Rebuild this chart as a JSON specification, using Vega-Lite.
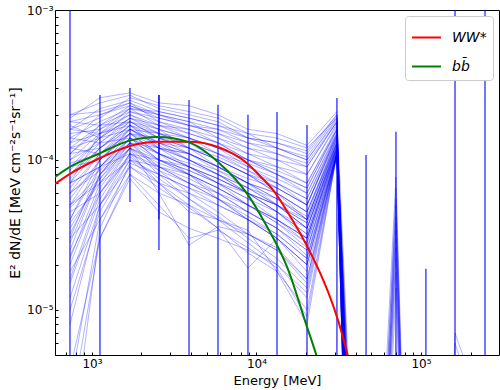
{
"$schema":"https://vega.github.io/schema/vega-lite/v6.json",
"width":444,"height":345,"autosize":"none",
"padding":{"left":55,"top":10,"right":1,"bottom":35},
"config":{"view":{"stroke":"#000000","strokeWidth":1},"font":"DejaVu Sans",
"axis":{"grid":false,"domain":false,"tickColor":"#000000","tickSize":-3,"labelColor":"#000000","labelFont":"DejaVu Sans","labelFontSize":12,"titleFont":"DejaVu Sans","titleFontSize":13,"titleFontWeight":"normal","titleColor":"#000000","labelOverlap":false,"labelFlush":false}},
"datasets":{
"samples":[
{"s":1,"e":735,"v":20e-5},{"s":1,"e":1118,"v":24e-5},{"s":1,"e":1702,"v":27e-5},{"s":1,"e":2553,"v":22e-5},{"s":1,"e":3890,"v":20e-5},{"s":1,"e":5834,"v":18e-5},{"s":1,"e":8875,"v":14e-5},{"s":1,"e":13330,"v":13e-5},{"s":1,"e":20280,"v":11e-5},{"s":1,"e":30830,"v":20e-5},{"s":1,"e":46340,"v":1e-8},{"s":1,"e":70430,"v":7.7e-5},{"s":1,"e":107100,"v":1e-11},
{"s":2,"e":735,"v":16e-5},{"s":2,"e":1118,"v":22e-5},{"s":2,"e":1702,"v":25e-5},{"s":2,"e":2553,"v":21e-5},{"s":2,"e":3890,"v":19e-5},{"s":2,"e":5834,"v":17e-5},{"s":2,"e":8875,"v":15e-5},{"s":2,"e":13330,"v":14e-5},{"s":2,"e":20280,"v":12e-5},{"s":2,"e":30830,"v":19e-5},{"s":2,"e":46340,"v":1e-10},
{"s":3,"e":735,"v":18e-5},{"s":3,"e":1118,"v":20e-5},{"s":3,"e":1702,"v":23e-5},{"s":3,"e":2553,"v":19e-5},{"s":3,"e":3890,"v":17e-5},{"s":3,"e":5834,"v":15e-5},{"s":3,"e":8875,"v":12e-5},{"s":3,"e":13330,"v":11e-5},{"s":3,"e":20280,"v":9e-5},{"s":3,"e":30830,"v":18e-5},{"s":3,"e":46340,"v":1e-11},
{"s":4,"e":735,"v":14e-5},{"s":4,"e":1118,"v":18e-5},{"s":4,"e":1702,"v":22e-5},{"s":4,"e":2553,"v":20e-5},{"s":4,"e":3890,"v":18e-5},{"s":4,"e":5834,"v":14e-5},{"s":4,"e":8875,"v":11e-5},{"s":4,"e":13330,"v":9e-5},{"s":4,"e":20280,"v":8e-5},{"s":4,"e":30830,"v":17e-5},{"s":4,"e":46340,"v":1e-9},
{"s":5,"e":735,"v":12e-5},{"s":5,"e":1118,"v":17e-5},{"s":5,"e":1702,"v":21e-5},{"s":5,"e":2553,"v":18e-5},{"s":5,"e":3890,"v":15e-5},{"s":5,"e":5834,"v":13e-5},{"s":5,"e":8875,"v":10e-5},{"s":5,"e":13330,"v":9e-5},{"s":5,"e":20280,"v":7e-5},{"s":5,"e":30830,"v":16e-5},{"s":5,"e":46340,"v":3e-9},{"s":5,"e":70430,"v":6.5e-5},{"s":5,"e":107100,"v":1e-11},
{"s":6,"e":735,"v":15e-5},{"s":6,"e":1118,"v":16e-5},{"s":6,"e":1702,"v":20e-5},{"s":6,"e":2553,"v":16e-5},{"s":6,"e":3890,"v":14e-5},{"s":6,"e":5834,"v":12e-5},{"s":6,"e":8875,"v":10e-5},{"s":6,"e":13330,"v":8e-5},{"s":6,"e":20280,"v":6.5e-5},{"s":6,"e":30830,"v":16e-5},{"s":6,"e":46340,"v":1e-10},
{"s":7,"e":735,"v":10e-5},{"s":7,"e":1118,"v":15e-5},{"s":7,"e":1702,"v":20e-5},{"s":7,"e":2553,"v":17e-5},{"s":7,"e":3890,"v":16e-5},{"s":7,"e":5834,"v":14e-5},{"s":7,"e":8875,"v":12e-5},{"s":7,"e":13330,"v":10e-5},{"s":7,"e":20280,"v":8e-5},{"s":7,"e":30830,"v":17.5e-5},{"s":7,"e":46340,"v":1e-11},
{"s":8,"e":735,"v":9e-5},{"s":8,"e":1118,"v":14e-5},{"s":8,"e":1702,"v":19e-5},{"s":8,"e":2553,"v":15e-5},{"s":8,"e":3890,"v":13e-5},{"s":8,"e":5834,"v":11e-5},{"s":8,"e":8875,"v":9e-5},{"s":8,"e":13330,"v":7.5e-5},{"s":8,"e":20280,"v":6e-5},{"s":8,"e":30830,"v":15e-5},{"s":8,"e":46340,"v":1e-9},
{"s":9,"e":735,"v":13e-5},{"s":9,"e":1118,"v":15e-5},{"s":9,"e":1702,"v":18e-5},{"s":9,"e":2553,"v":14e-5},{"s":9,"e":3890,"v":12e-5},{"s":9,"e":5834,"v":10e-5},{"s":9,"e":8875,"v":8e-5},{"s":9,"e":13330,"v":7e-5},{"s":9,"e":20280,"v":5.5e-5},{"s":9,"e":30830,"v":14.5e-5},{"s":9,"e":46340,"v":1e-9},{"s":9,"e":70430,"v":5.5e-5},{"s":9,"e":107100,"v":1e-11},
{"s":10,"e":735,"v":8e-5},{"s":10,"e":1118,"v":13e-5},{"s":10,"e":1702,"v":18e-5},{"s":10,"e":2553,"v":16e-5},{"s":10,"e":3890,"v":14e-5},{"s":10,"e":5834,"v":12e-5},{"s":10,"e":8875,"v":9e-5},{"s":10,"e":13330,"v":7e-5},{"s":10,"e":20280,"v":5e-5},{"s":10,"e":30830,"v":15e-5},{"s":10,"e":46340,"v":1e-10},
{"s":11,"e":735,"v":11e-5},{"s":11,"e":1118,"v":12e-5},{"s":11,"e":1702,"v":17e-5},{"s":11,"e":2553,"v":13e-5},{"s":11,"e":3890,"v":11e-5},{"s":11,"e":5834,"v":9e-5},{"s":11,"e":8875,"v":7e-5},{"s":11,"e":13330,"v":6e-5},{"s":11,"e":20280,"v":4.5e-5},{"s":11,"e":30830,"v":14e-5},{"s":11,"e":46340,"v":1e-11},
{"s":12,"e":735,"v":7e-5},{"s":12,"e":1118,"v":12e-5},{"s":12,"e":1702,"v":17e-5},{"s":12,"e":2553,"v":14e-5},{"s":12,"e":3890,"v":13e-5},{"s":12,"e":5834,"v":11e-5},{"s":12,"e":8875,"v":9.5e-5},{"s":12,"e":13330,"v":8e-5},{"s":12,"e":20280,"v":6.5e-5},{"s":12,"e":30830,"v":16e-5},{"s":12,"e":46340,"v":1e-9},
{"s":13,"e":735,"v":6e-5},{"s":13,"e":1118,"v":11e-5},{"s":13,"e":1702,"v":16e-5},{"s":13,"e":2553,"v":12e-5},{"s":13,"e":3890,"v":10e-5},{"s":13,"e":5834,"v":8.5e-5},{"s":13,"e":8875,"v":7e-5},{"s":13,"e":13330,"v":5.5e-5},{"s":13,"e":20280,"v":4e-5},{"s":13,"e":30830,"v":13.5e-5},{"s":13,"e":46340,"v":1e-8},{"s":13,"e":70430,"v":5e-5},{"s":13,"e":107100,"v":1e-11},
{"s":14,"e":735,"v":17e-5},{"s":14,"e":1118,"v":14e-5},{"s":14,"e":1702,"v":16e-5},{"s":14,"e":2553,"v":13e-5},{"s":14,"e":3890,"v":12e-5},{"s":14,"e":5834,"v":10e-5},{"s":14,"e":8875,"v":8e-5},{"s":14,"e":13330,"v":6.5e-5},{"s":14,"e":20280,"v":5e-5},{"s":14,"e":30830,"v":14e-5},{"s":14,"e":46340,"v":1e-10},
{"s":15,"e":735,"v":5e-5},{"s":15,"e":1118,"v":10e-5},{"s":15,"e":1702,"v":16e-5},{"s":15,"e":2553,"v":15e-5},{"s":15,"e":3890,"v":13e-5},{"s":15,"e":5834,"v":10e-5},{"s":15,"e":8875,"v":8e-5},{"s":15,"e":13330,"v":6e-5},{"s":15,"e":20280,"v":4.5e-5},{"s":15,"e":30830,"v":13e-5},{"s":15,"e":46340,"v":1e-11},
{"s":16,"e":735,"v":12e-5},{"s":16,"e":1118,"v":11e-5},{"s":16,"e":1702,"v":15e-5},{"s":16,"e":2553,"v":11e-5},{"s":16,"e":3890,"v":9e-5},{"s":16,"e":5834,"v":7.5e-5},{"s":16,"e":8875,"v":6e-5},{"s":16,"e":13330,"v":5e-5},{"s":16,"e":20280,"v":3.5e-5},{"s":16,"e":30830,"v":13e-5},{"s":16,"e":46340,"v":1e-9},
{"s":17,"e":735,"v":4e-5},{"s":17,"e":1118,"v":10e-5},{"s":17,"e":1702,"v":15e-5},{"s":17,"e":2553,"v":12e-5},{"s":17,"e":3890,"v":11e-5},{"s":17,"e":5834,"v":9e-5},{"s":17,"e":8875,"v":7.5e-5},{"s":17,"e":13330,"v":6.5e-5},{"s":17,"e":20280,"v":5e-5},{"s":17,"e":30830,"v":14.5e-5},{"s":17,"e":46340,"v":3e-9},{"s":17,"e":70430,"v":4.2e-5},{"s":17,"e":107100,"v":1e-11},
{"s":18,"e":735,"v":9e-5},{"s":18,"e":1118,"v":10e-5},{"s":18,"e":1702,"v":15e-5},{"s":18,"e":2553,"v":13e-5},{"s":18,"e":3890,"v":10e-5},{"s":18,"e":5834,"v":8e-5},{"s":18,"e":8875,"v":6e-5},{"s":18,"e":13330,"v":4.5e-5},{"s":18,"e":20280,"v":3.2e-5},{"s":18,"e":30830,"v":12.5e-5},{"s":18,"e":46340,"v":1e-10},
{"s":19,"e":735,"v":3e-5},{"s":19,"e":1118,"v":9e-5},{"s":19,"e":1702,"v":14e-5},{"s":19,"e":2553,"v":11e-5},{"s":19,"e":3890,"v":9e-5},{"s":19,"e":5834,"v":7e-5},{"s":19,"e":8875,"v":5.5e-5},{"s":19,"e":13330,"v":4.5e-5},{"s":19,"e":20280,"v":3e-5},{"s":19,"e":30830,"v":12e-5},{"s":19,"e":46340,"v":1e-11},
{"s":20,"e":735,"v":7e-5},{"s":20,"e":1118,"v":9e-5},{"s":20,"e":1702,"v":14e-5},{"s":20,"e":2553,"v":10e-5},{"s":20,"e":3890,"v":8.5e-5},{"s":20,"e":5834,"v":7e-5},{"s":20,"e":8875,"v":6e-5},{"s":20,"e":13330,"v":5e-5},{"s":20,"e":20280,"v":4e-5},{"s":20,"e":30830,"v":13e-5},{"s":20,"e":46340,"v":1e-9},
{"s":21,"e":735,"v":2.5e-5},{"s":21,"e":1118,"v":8e-5},{"s":21,"e":1702,"v":14e-5},{"s":21,"e":2553,"v":12e-5},{"s":21,"e":3890,"v":10e-5},{"s":21,"e":5834,"v":8e-5},{"s":21,"e":8875,"v":6.5e-5},{"s":21,"e":13330,"v":5.5e-5},{"s":21,"e":20280,"v":4.2e-5},{"s":21,"e":30830,"v":14e-5},{"s":21,"e":46340,"v":1e-9},{"s":21,"e":70430,"v":3.8e-5},{"s":21,"e":107100,"v":1e-11},
{"s":22,"e":735,"v":6e-5},{"s":22,"e":1118,"v":8.5e-5},{"s":22,"e":1702,"v":13e-5},{"s":22,"e":2553,"v":10e-5},{"s":22,"e":3890,"v":8e-5},{"s":22,"e":5834,"v":6.5e-5},{"s":22,"e":8875,"v":5e-5},{"s":22,"e":13330,"v":4e-5},{"s":22,"e":20280,"v":2.8e-5},{"s":22,"e":30830,"v":11.5e-5},{"s":22,"e":46340,"v":1e-10},
{"s":23,"e":735,"v":3.5e-5},{"s":23,"e":1118,"v":7.5e-5},{"s":23,"e":1702,"v":13e-5},{"s":23,"e":2553,"v":11e-5},{"s":23,"e":3890,"v":9.5e-5},{"s":23,"e":5834,"v":8e-5},{"s":23,"e":8875,"v":6e-5},{"s":23,"e":13330,"v":4.5e-5},{"s":23,"e":20280,"v":3.5e-5},{"s":23,"e":30830,"v":12.5e-5},{"s":23,"e":46340,"v":1e-11},
{"s":24,"e":735,"v":5e-5},{"s":24,"e":1118,"v":7e-5},{"s":24,"e":1702,"v":12e-5},{"s":24,"e":2553,"v":9e-5},{"s":24,"e":3890,"v":7e-5},{"s":24,"e":5834,"v":5.5e-5},{"s":24,"e":8875,"v":4.5e-5},{"s":24,"e":13330,"v":3.5e-5},{"s":24,"e":20280,"v":2.5e-5},{"s":24,"e":30830,"v":11e-5},{"s":24,"e":46340,"v":1e-9},
{"s":25,"e":735,"v":2e-5},{"s":25,"e":1118,"v":6.5e-5},{"s":25,"e":1702,"v":12e-5},{"s":25,"e":2553,"v":10e-5},{"s":25,"e":3890,"v":8.5e-5},{"s":25,"e":5834,"v":7e-5},{"s":25,"e":8875,"v":5.5e-5},{"s":25,"e":13330,"v":4e-5},{"s":25,"e":20280,"v":3e-5},{"s":25,"e":30830,"v":12e-5},{"s":25,"e":46340,"v":1e-8},{"s":25,"e":70430,"v":3.4e-5},{"s":25,"e":107100,"v":1e-11},
{"s":26,"e":735,"v":4.5e-5},{"s":26,"e":1118,"v":6e-5},{"s":26,"e":1702,"v":11e-5},{"s":26,"e":2553,"v":8.5e-5},{"s":26,"e":3890,"v":7e-5},{"s":26,"e":5834,"v":6e-5},{"s":26,"e":8875,"v":5e-5},{"s":26,"e":13330,"v":4e-5},{"s":26,"e":20280,"v":3e-5},{"s":26,"e":30830,"v":11.5e-5},{"s":26,"e":46340,"v":1e-10},
{"s":27,"e":735,"v":1.5e-5},{"s":27,"e":1118,"v":5.5e-5},{"s":27,"e":1702,"v":11e-5},{"s":27,"e":2553,"v":9e-5},{"s":27,"e":3890,"v":7.5e-5},{"s":27,"e":5834,"v":6e-5},{"s":27,"e":8875,"v":4.5e-5},{"s":27,"e":13330,"v":3.5e-5},{"s":27,"e":20280,"v":2.3e-5},{"s":27,"e":30830,"v":11e-5},{"s":27,"e":46340,"v":1e-11},
{"s":28,"e":735,"v":3e-5},{"s":28,"e":1118,"v":5e-5},{"s":28,"e":1702,"v":10e-5},{"s":28,"e":2553,"v":8e-5},{"s":28,"e":3890,"v":6.5e-5},{"s":28,"e":5834,"v":5e-5},{"s":28,"e":8875,"v":4e-5},{"s":28,"e":13330,"v":3e-5},{"s":28,"e":20280,"v":2e-5},{"s":28,"e":30830,"v":11e-5},{"s":28,"e":46340,"v":1e-9},
{"s":29,"e":735,"v":1e-5},{"s":29,"e":1118,"v":4.5e-5},{"s":29,"e":1702,"v":10e-5},{"s":29,"e":2553,"v":9e-5},{"s":29,"e":3890,"v":8e-5},{"s":29,"e":5834,"v":6.5e-5},{"s":29,"e":8875,"v":5e-5},{"s":29,"e":13330,"v":4e-5},{"s":29,"e":20280,"v":3e-5},{"s":29,"e":30830,"v":12e-5},{"s":29,"e":46340,"v":3e-9},{"s":29,"e":70430,"v":3e-5},{"s":29,"e":107100,"v":1e-11},
{"s":30,"e":735,"v":0.3e-5},{"s":30,"e":1118,"v":4e-5},{"s":30,"e":1702,"v":9e-5},{"s":30,"e":2553,"v":7e-5},{"s":30,"e":3890,"v":6e-5},{"s":30,"e":5834,"v":5e-5},{"s":30,"e":8875,"v":4e-5},{"s":30,"e":13330,"v":3e-5},{"s":30,"e":20280,"v":1.8e-5},{"s":30,"e":30830,"v":11e-5},{"s":30,"e":46340,"v":1e-10},
{"s":31,"e":735,"v":19e-5},{"s":31,"e":1118,"v":26e-5},{"s":31,"e":1702,"v":28e-5},{"s":31,"e":2553,"v":24e-5},{"s":31,"e":3890,"v":23e-5},{"s":31,"e":5834,"v":20e-5},{"s":31,"e":8875,"v":16e-5},{"s":31,"e":13330,"v":15e-5},{"s":31,"e":20280,"v":12.5e-5},{"s":31,"e":30830,"v":21e-5},{"s":31,"e":46340,"v":1e-11},
{"s":32,"e":735,"v":20e-5},{"s":32,"e":1118,"v":21e-5},{"s":32,"e":1702,"v":24e-5},{"s":32,"e":2553,"v":18e-5},{"s":32,"e":3890,"v":16e-5},{"s":32,"e":5834,"v":13e-5},{"s":32,"e":8875,"v":10e-5},{"s":32,"e":13330,"v":8e-5},{"s":32,"e":20280,"v":6e-5},{"s":32,"e":30830,"v":15.5e-5},{"s":32,"e":46340,"v":1e-9},
{"s":33,"e":735,"v":16e-5},{"s":33,"e":1118,"v":19e-5},{"s":33,"e":1702,"v":26e-5},{"s":33,"e":2553,"v":23e-5},{"s":33,"e":3890,"v":21e-5},{"s":33,"e":5834,"v":19e-5},{"s":33,"e":8875,"v":15e-5},{"s":33,"e":13330,"v":12e-5},{"s":33,"e":20280,"v":10e-5},{"s":33,"e":30830,"v":18.5e-5},{"s":33,"e":46340,"v":1e-9},{"s":33,"e":70430,"v":2.6e-5},{"s":33,"e":107100,"v":1e-11},
{"s":34,"e":735,"v":13e-5},{"s":34,"e":1118,"v":20e-5},{"s":34,"e":1702,"v":24e-5},{"s":34,"e":2553,"v":20e-5},{"s":34,"e":3890,"v":17e-5},{"s":34,"e":5834,"v":16e-5},{"s":34,"e":8875,"v":13e-5},{"s":34,"e":13330,"v":12e-5},{"s":34,"e":20280,"v":10e-5},{"s":34,"e":30830,"v":19e-5},{"s":34,"e":46340,"v":1e-10},
{"s":35,"e":735,"v":11e-5},{"s":35,"e":1118,"v":16e-5},{"s":35,"e":1702,"v":22e-5},{"s":35,"e":2553,"v":17e-5},{"s":35,"e":3890,"v":15e-5},{"s":35,"e":5834,"v":13e-5},{"s":35,"e":8875,"v":11e-5},{"s":35,"e":13330,"v":10e-5},{"s":35,"e":20280,"v":9e-5},{"s":35,"e":30830,"v":18e-5},{"s":35,"e":46340,"v":1e-11},
{"s":36,"e":735,"v":8.5e-5},{"s":36,"e":1118,"v":14e-5},{"s":36,"e":1702,"v":21e-5},{"s":36,"e":2553,"v":19e-5},{"s":36,"e":3890,"v":17e-5},{"s":36,"e":5834,"v":15e-5},{"s":36,"e":8875,"v":13e-5},{"s":36,"e":13330,"v":11e-5},{"s":36,"e":20280,"v":9.5e-5},{"s":36,"e":30830,"v":18e-5},{"s":36,"e":46340,"v":1e-9},
{"s":37,"e":735,"v":10e-5},{"s":37,"e":1118,"v":13e-5},{"s":37,"e":1702,"v":19e-5},{"s":37,"e":2553,"v":17e-5},{"s":37,"e":3890,"v":14e-5},{"s":37,"e":5834,"v":11e-5},{"s":37,"e":8875,"v":8.5e-5},{"s":37,"e":13330,"v":6.5e-5},{"s":37,"e":20280,"v":5e-5},{"s":37,"e":30830,"v":14.5e-5},{"s":37,"e":46340,"v":1e-8},{"s":37,"e":70430,"v":2.2e-5},{"s":37,"e":107100,"v":1e-11},
{"s":38,"e":735,"v":7.5e-5},{"s":38,"e":1118,"v":12e-5},{"s":38,"e":1702,"v":18e-5},{"s":38,"e":2553,"v":15e-5},{"s":38,"e":3890,"v":12e-5},{"s":38,"e":5834,"v":10e-5},{"s":38,"e":8875,"v":8e-5},{"s":38,"e":13330,"v":6e-5},{"s":38,"e":20280,"v":4e-5},{"s":38,"e":30830,"v":13e-5},{"s":38,"e":46340,"v":1e-10},
{"s":39,"e":735,"v":6.5e-5},{"s":39,"e":1118,"v":11e-5},{"s":39,"e":1702,"v":17e-5},{"s":39,"e":2553,"v":15e-5},{"s":39,"e":3890,"v":14e-5},{"s":39,"e":5834,"v":12e-5},{"s":39,"e":8875,"v":10e-5},{"s":39,"e":13330,"v":8.5e-5},{"s":39,"e":20280,"v":7e-5},{"s":39,"e":30830,"v":16.5e-5},{"s":39,"e":46340,"v":1e-11},
{"s":40,"e":735,"v":5.5e-5},{"s":40,"e":1118,"v":10e-5},{"s":40,"e":1702,"v":16e-5},{"s":40,"e":2553,"v":13e-5},{"s":40,"e":3890,"v":11e-5},{"s":40,"e":5834,"v":9e-5},{"s":40,"e":8875,"v":7e-5},{"s":40,"e":13330,"v":5.5e-5},{"s":40,"e":20280,"v":4e-5},{"s":40,"e":30830,"v":13e-5},{"s":40,"e":46340,"v":1e-9},
{"s":41,"e":735,"v":4e-5},{"s":41,"e":1118,"v":9e-5},{"s":41,"e":1702,"v":15e-5},{"s":41,"e":2553,"v":14e-5},{"s":41,"e":3890,"v":12e-5},{"s":41,"e":5834,"v":10.5e-5},{"s":41,"e":8875,"v":8.5e-5},{"s":41,"e":13330,"v":7e-5},{"s":41,"e":20280,"v":5.5e-5},{"s":41,"e":30830,"v":15e-5},{"s":41,"e":46340,"v":3e-9},{"s":41,"e":70430,"v":1.8e-5},{"s":41,"e":107100,"v":1e-11},
{"s":42,"e":735,"v":2.8e-5},{"s":42,"e":1118,"v":8e-5},{"s":42,"e":1702,"v":14e-5},{"s":42,"e":2553,"v":11e-5},{"s":42,"e":3890,"v":9e-5},{"s":42,"e":5834,"v":7.5e-5},{"s":42,"e":8875,"v":6e-5},{"s":42,"e":13330,"v":5e-5},{"s":42,"e":20280,"v":3.8e-5},{"s":42,"e":30830,"v":12.5e-5},{"s":42,"e":46340,"v":1e-10},
{"s":43,"e":735,"v":2.2e-5},{"s":43,"e":1118,"v":7e-5},{"s":43,"e":1702,"v":13e-5},{"s":43,"e":2553,"v":12e-5},{"s":43,"e":3890,"v":11e-5},{"s":43,"e":5834,"v":9e-5},{"s":43,"e":8875,"v":7e-5},{"s":43,"e":13330,"v":6e-5},{"s":43,"e":20280,"v":4.5e-5},{"s":43,"e":30830,"v":13.5e-5},{"s":43,"e":46340,"v":1e-11},
{"s":44,"e":735,"v":1.6e-5},{"s":44,"e":1118,"v":6e-5},{"s":44,"e":1702,"v":12e-5},{"s":44,"e":2553,"v":9.5e-5},{"s":44,"e":3890,"v":8e-5},{"s":44,"e":5834,"v":6.5e-5},{"s":44,"e":8875,"v":5e-5},{"s":44,"e":13330,"v":3.8e-5},{"s":44,"e":20280,"v":2.8e-5},{"s":44,"e":30830,"v":11.5e-5},{"s":44,"e":46340,"v":1e-9},
{"s":45,"e":735,"v":0.8e-5},{"s":45,"e":1118,"v":5e-5},{"s":45,"e":1702,"v":11e-5},{"s":45,"e":2553,"v":10e-5},{"s":45,"e":3890,"v":9e-5},{"s":45,"e":5834,"v":7.5e-5},{"s":45,"e":8875,"v":6e-5},{"s":45,"e":13330,"v":4.5e-5},{"s":45,"e":20280,"v":3.2e-5},{"s":45,"e":30830,"v":12e-5},{"s":45,"e":46340,"v":1e-9},{"s":45,"e":70430,"v":1.4e-5},{"s":45,"e":107100,"v":1e-11},
{"s":46,"e":735,"v":0.1e-5},{"s":46,"e":1118,"v":3.5e-5},{"s":46,"e":1702,"v":9.5e-5},{"s":46,"e":2553,"v":8e-5},{"s":46,"e":3890,"v":6.5e-5},{"s":46,"e":5834,"v":5.5e-5},{"s":46,"e":8875,"v":4.2e-5},{"s":46,"e":13330,"v":3.2e-5},{"s":46,"e":20280,"v":2.2e-5},{"s":46,"e":30830,"v":11e-5},{"s":46,"e":46340,"v":1e-10},
{"s":47,"e":735,"v":0.2e-5},{"s":47,"e":1118,"v":3e-5},{"s":47,"e":1702,"v":8e-5},{"s":47,"e":2553,"v":6e-5},{"s":47,"e":3890,"v":5e-5},{"s":47,"e":5834,"v":4e-5},{"s":47,"e":8875,"v":3.2e-5},{"s":47,"e":13330,"v":2.5e-5},{"s":47,"e":20280,"v":1.5e-5},{"s":47,"e":30830,"v":11e-5},{"s":47,"e":46340,"v":1e-11},
{"s":48,"e":735,"v":14e-5},{"s":48,"e":1118,"v":13e-5},{"s":48,"e":1702,"v":14e-5},{"s":48,"e":2553,"v":10e-5},{"s":48,"e":3890,"v":8e-5},{"s":48,"e":5834,"v":6e-5},{"s":48,"e":8875,"v":4.5e-5},{"s":48,"e":13330,"v":3.5e-5},{"s":48,"e":20280,"v":2.5e-5},{"s":48,"e":30830,"v":11.5e-5},{"s":48,"e":46340,"v":1e-9},
{"s":49,"e":735,"v":18e-5},{"s":49,"e":1118,"v":17e-5},{"s":49,"e":1702,"v":18e-5},{"s":49,"e":2553,"v":14e-5},{"s":49,"e":3890,"v":11e-5},{"s":49,"e":5834,"v":8.5e-5},{"s":49,"e":8875,"v":6.5e-5},{"s":49,"e":13330,"v":5e-5},{"s":49,"e":20280,"v":3.5e-5},{"s":49,"e":30830,"v":12.5e-5},{"s":49,"e":46340,"v":1e-10},
{"s":50,"e":735,"v":16e-5},{"s":50,"e":1118,"v":15e-5},{"s":50,"e":1702,"v":17e-5},{"s":50,"e":2553,"v":12e-5},{"s":50,"e":3890,"v":9e-5},{"s":50,"e":5834,"v":7e-5},{"s":50,"e":8875,"v":5e-5},{"s":50,"e":13330,"v":3.8e-5},{"s":50,"e":20280,"v":2.6e-5},{"s":50,"e":30830,"v":11e-5},{"s":50,"e":46340,"v":1e-11},{"s":50,"e":70430,"v":1e-11},{"s":50,"e":107100,"v":1e-11},{"s":50,"e":161000,"v":0.7e-5},{"s":50,"e":245000,"v":0.19e-5},
{"s":51,"e":735,"v":12e-5},{"s":51,"e":1118,"v":14e-5},{"s":51,"e":1702,"v":19e-5},{"s":51,"e":2553,"v":16e-5},{"s":51,"e":3890,"v":12e-5},{"s":51,"e":5834,"v":9e-5},{"s":51,"e":8875,"v":7e-5},{"s":51,"e":13330,"v":5e-5},{"s":51,"e":20280,"v":3.5e-5},{"s":51,"e":30830,"v":12e-5},{"s":51,"e":46340,"v":1e-9},
{"s":52,"e":735,"v":9.5e-5},{"s":52,"e":1118,"v":11e-5},{"s":52,"e":1702,"v":15e-5},{"s":52,"e":2553,"v":11e-5},{"s":52,"e":3890,"v":8e-5},{"s":52,"e":5834,"v":5.5e-5},{"s":52,"e":8875,"v":4e-5},{"s":52,"e":13330,"v":3e-5},{"s":52,"e":20280,"v":2e-5},{"s":52,"e":30830,"v":11e-5},{"s":52,"e":46340,"v":1e-10},
{"s":53,"e":735,"v":6e-5},{"s":53,"e":1118,"v":9e-5},{"s":53,"e":1702,"v":13e-5},{"s":53,"e":2553,"v":8.5e-5},{"s":53,"e":3890,"v":6e-5},{"s":53,"e":5834,"v":4.5e-5},{"s":53,"e":8875,"v":3.2e-5},{"s":53,"e":13330,"v":2.5e-5},{"s":53,"e":20280,"v":1.6e-5},{"s":53,"e":30830,"v":11e-5},{"s":53,"e":46340,"v":1e-11},
{"s":54,"e":735,"v":4.8e-5},{"s":54,"e":1118,"v":7.5e-5},{"s":54,"e":1702,"v":12e-5},{"s":54,"e":2553,"v":8e-5},{"s":54,"e":3890,"v":5.5e-5},{"s":54,"e":5834,"v":4e-5},{"s":54,"e":8875,"v":2.8e-5},{"s":54,"e":13330,"v":2e-5},{"s":54,"e":20280,"v":1.2e-5},{"s":54,"e":30830,"v":11e-5},{"s":54,"e":46340,"v":1e-9},
{"s":55,"e":735,"v":11e-5},{"s":55,"e":1118,"v":17e-5},{"s":55,"e":1702,"v":23e-5},{"s":55,"e":2553,"v":20e-5},{"s":55,"e":3890,"v":18e-5},{"s":55,"e":5834,"v":16e-5},{"s":55,"e":8875,"v":14e-5},{"s":55,"e":13330,"v":13e-5},{"s":55,"e":20280,"v":11.5e-5},{"s":55,"e":30830,"v":20e-5},{"s":55,"e":46340,"v":1e-10},
{"s":56,"e":735,"v":7e-5},{"s":56,"e":1118,"v":15e-5},{"s":56,"e":1702,"v":22e-5},{"s":56,"e":2553,"v":21e-5},{"s":56,"e":3890,"v":19e-5},{"s":56,"e":5834,"v":17e-5},{"s":56,"e":8875,"v":14e-5},{"s":56,"e":13330,"v":12e-5},{"s":56,"e":20280,"v":10.5e-5},{"s":56,"e":30830,"v":19.5e-5},{"s":56,"e":46340,"v":1e-11},
{"s":57,"e":735,"v":8e-5},{"s":57,"e":1118,"v":12e-5},{"s":57,"e":1702,"v":16e-5},{"s":57,"e":2553,"v":12.5e-5},{"s":57,"e":3890,"v":10e-5},{"s":57,"e":5834,"v":8e-5},{"s":57,"e":8875,"v":6.5e-5},{"s":57,"e":13330,"v":5e-5},{"s":57,"e":20280,"v":3.8e-5},{"s":57,"e":30830,"v":12e-5},{"s":57,"e":46340,"v":1e-9},
{"s":58,"e":735,"v":3.2e-5},{"s":58,"e":1118,"v":8e-5},{"s":58,"e":1702,"v":13e-5},{"s":58,"e":2553,"v":9e-5},{"s":58,"e":3890,"v":7e-5},{"s":58,"e":5834,"v":5.5e-5},{"s":58,"e":8875,"v":4e-5},{"s":58,"e":13330,"v":3.2e-5},{"s":58,"e":20280,"v":2.2e-5},{"s":58,"e":30830,"v":11e-5},{"s":58,"e":46340,"v":1e-10},
{"s":59,"e":735,"v":2.3e-5},{"s":59,"e":1118,"v":6e-5},{"s":59,"e":1702,"v":10.5e-5},{"s":59,"e":2553,"v":7.5e-5},{"s":59,"e":3890,"v":5.5e-5},{"s":59,"e":5834,"v":4.2e-5},{"s":59,"e":8875,"v":3e-5},{"s":59,"e":13330,"v":2.2e-5},{"s":59,"e":20280,"v":1.4e-5},{"s":59,"e":30830,"v":11e-5},{"s":59,"e":46340,"v":1e-11},
{"s":60,"e":735,"v":1.2e-5},{"s":60,"e":1118,"v":5e-5},{"s":60,"e":1702,"v":9e-5},{"s":60,"e":2553,"v":6.5e-5},{"s":60,"e":3890,"v":4.8e-5},{"s":60,"e":5834,"v":3.5e-5},{"s":60,"e":8875,"v":2.4e-5},{"s":60,"e":13330,"v":1.8e-5},{"s":60,"e":20280,"v":1e-5},{"s":60,"e":30830,"v":11e-5},{"s":60,"e":46340,"v":1e-11},{"s":60,"e":70430,"v":1e-11},{"s":60,"e":107100,"v":1e-11},{"s":60,"e":161000,"v":0.6e-5},{"s":60,"e":245000,"v":0.15e-5},
{"s":61,"e":735,"v":0.4e-5},{"s":61,"e":1118,"v":3e-5},{"s":61,"e":1702,"v":7.5e-5},{"s":61,"e":2553,"v":4.5e-5},{"s":61,"e":3890,"v":3.5e-5},{"s":61,"e":5834,"v":3e-5},{"s":61,"e":8875,"v":2.5e-5},{"s":61,"e":13330,"v":2e-5},{"s":61,"e":20280,"v":1.3e-5},{"s":61,"e":30830,"v":11e-5},{"s":61,"e":46340,"v":1e-10},
{"s":62,"e":735,"v":1.8e-5},{"s":62,"e":1118,"v":4e-5},{"s":62,"e":1702,"v":8e-5},{"s":62,"e":2553,"v":5e-5},{"s":62,"e":3890,"v":3e-5},{"s":62,"e":5834,"v":3.4e-5},{"s":62,"e":8875,"v":2.6e-5},{"s":62,"e":13330,"v":1.9e-5},{"s":62,"e":20280,"v":0.9e-5},{"s":62,"e":30830,"v":11e-5},{"s":62,"e":46340,"v":1e-11},
{"s":63,"e":735,"v":5e-5},{"s":63,"e":1118,"v":8e-5},{"s":63,"e":1702,"v":12e-5},{"s":63,"e":2553,"v":6e-5},{"s":63,"e":3890,"v":2.7e-5},{"s":63,"e":5834,"v":3.6e-5},{"s":63,"e":8875,"v":3.2e-5},{"s":63,"e":13330,"v":2.6e-5},{"s":63,"e":20280,"v":1.6e-5},{"s":63,"e":30830,"v":11e-5},{"s":63,"e":46340,"v":1e-9},
{"s":64,"e":735,"v":7e-5},{"s":64,"e":1118,"v":9e-5},{"s":64,"e":1702,"v":11e-5},{"s":64,"e":2553,"v":7e-5},{"s":64,"e":3890,"v":5e-5},{"s":64,"e":5834,"v":3.5e-5},{"s":64,"e":8875,"v":1.9e-5},{"s":64,"e":13330,"v":3e-5},{"s":64,"e":20280,"v":2e-5},{"s":64,"e":30830,"v":11.5e-5},{"s":64,"e":46340,"v":1e-10},
{"s":65,"e":735,"v":3.8e-5},{"s":65,"e":1118,"v":7e-5},{"s":65,"e":1702,"v":10e-5},{"s":65,"e":2553,"v":7e-5},{"s":65,"e":3890,"v":4.5e-5},{"s":65,"e":5834,"v":4e-5},{"s":65,"e":8875,"v":3.4e-5},{"s":65,"e":13330,"v":1.8e-5},{"s":65,"e":20280,"v":0.8e-5},{"s":65,"e":30830,"v":11e-5},{"s":65,"e":46340,"v":1e-11}
],
"errs":[
{"e":735,"lo":1e-6,"hi":2e-3},{"e":1118,"lo":1e-6,"hi":2.71e-4},{"e":1702,"lo":5.25e-5,"hi":3.02e-4},{"e":2553,"lo":4.0e-5,"hi":2.71e-4},{"e":2553,"lo":2.51e-5,"hi":2.71e-4},{"e":3890,"lo":1e-6,"hi":2.51e-4},{"e":5834,"lo":1e-6,"hi":2.33e-4},{"e":8875,"lo":1e-6,"hi":2.0e-4},{"e":13330,"lo":1e-6,"hi":2.09e-4},{"e":20280,"lo":1e-6,"hi":1.71e-4},{"e":30830,"lo":1e-6,"hi":2.59e-4},{"e":46340,"lo":1e-6,"hi":1.08e-4},{"e":70430,"lo":1e-6,"hi":1.54e-4},{"e":107100,"lo":1e-6,"hi":1.88e-5},{"e":161000,"lo":1e-6,"hi":2e-3},{"e":245000,"lo":1e-6,"hi":2e-3}
],
"curves":[
{"m":"WW*","e":596,"v":6.92e-5},{"m":"WW*","e":735,"v":8.07e-5},{"m":"WW*","e":1118,"v":1.03e-4},{"m":"WW*","e":1702,"v":1.24e-4},{"m":"WW*","e":2553,"v":1.32e-4},{"m":"WW*","e":3890,"v":1.32e-4},{"m":"WW*","e":5834,"v":1.22e-4},{"m":"WW*","e":8875,"v":9.4e-5},{"m":"WW*","e":10500,"v":7.82e-5},{"m":"WW*","e":12600,"v":6.31e-5},{"m":"WW*","e":15980,"v":4.23e-5},{"m":"WW*","e":20280,"v":2.67e-5},{"m":"WW*","e":24320,"v":1.77e-5},{"m":"WW*","e":27980,"v":1.22e-5},{"m":"WW*","e":31260,"v":8.58e-6},{"m":"WW*","e":35950,"v":4.93e-6},{"m":"WW*","e":40240,"v":2.93e-6},
{"m":"bb\u0304","e":596,"v":7.7e-5},{"m":"bb\u0304","e":735,"v":8.98e-5},{"m":"bb\u0304","e":1103,"v":1.10e-4},{"m":"bb\u0304","e":1678,"v":1.34e-4},{"m":"bb\u0304","e":2518,"v":1.42e-4},{"m":"bb\u0304","e":3829,"v":1.32e-4},{"m":"bb\u0304","e":5834,"v":9.7e-5},{"m":"bb\u0304","e":8875,"v":5.85e-5},{"m":"bb\u0304","e":11260,"v":3.8e-5},{"m":"bb\u0304","e":15320,"v":1.94e-5},{"m":"bb\u0304","e":20280,"v":7.7e-6},{"m":"bb\u0304","e":23200,"v":4.93e-6},{"m":"bb\u0304","e":25380,"v":3.52e-6}
]
},
"layer":[
{"data":{"name":"samples"},
 "mark":{"type":"line","color":"#0000ff","opacity":0.3,"strokeWidth":1,"clip":true},
 "encoding":{
  "x":{"field":"e","type":"quantitative","scale":{"type":"log","domain":[596,298000],"nice":false},
   "axis":{"title":"Energy [MeV]","values":[600,700,800,900,1000,2000,3000,4000,5000,6000,7000,8000,9000,10000,20000,30000,40000,50000,60000,70000,80000,90000,100000,200000],
   "labelExpr":"datum.value == 1000 ? '10³' : datum.value == 10000 ? '10⁴' : datum.value == 100000 ? '10⁵' : ''","labelPadding":6,"titlePadding":5}},
  "y":{"field":"v","type":"quantitative","scale":{"type":"log","domain":[5e-6,1e-3],"nice":false},
   "axis":{"title":"E² dN/dE [MeV cm⁻²s⁻¹sr⁻¹]","titleFontSize":14,"values":[6e-6,7e-6,8e-6,9e-6,1e-5,2e-5,3e-5,4e-5,5e-5,6e-5,7e-5,8e-5,9e-5,1e-4,2e-4,3e-4,4e-4,5e-4,6e-4,7e-4,8e-4,9e-4,1e-3],
   "labelExpr":"datum.value == 0.001 ? '10⁻³' : datum.value == 0.0001 ? '10⁻⁴' : datum.value == 0.00001 ? '10⁻⁵' : ''","labelPadding":5,"titlePadding":4}},
  "detail":{"field":"s","type":"nominal"}
 }},
{"data":{"name":"errs"},
 "mark":{"type":"rule","color":"#0000ff","opacity":0.72,"strokeWidth":1.5,"clip":true},
 "encoding":{
  "x":{"field":"e","type":"quantitative"},
  "y":{"field":"lo","type":"quantitative"},
  "y2":{"field":"hi"}
 }},
{"data":{"name":"curves"},
 "mark":{"type":"line","strokeWidth":2,"interpolate":"monotone","clip":true},
 "encoding":{
  "x":{"field":"e","type":"quantitative"},
  "y":{"field":"v","type":"quantitative"},
  "color":{"field":"m","type":"nominal","scale":{"domain":["WW*","bb\u0304"],"range":["#ff0000","#008000"]},
   "legend":{"title":null,"orient":"top-right","offset":6,"symbolType":"stroke","symbolStrokeWidth":2,"symbolSize":841,"labelFont":"DejaVu Sans","labelFontStyle":"italic","labelFontSize":14,"labelColor":"#000000","strokeColor":"#cccccc","fillColor":"#ffffff","padding":6,"cornerRadius":3,"rowPadding":6,"labelOffset":10}}
 }}
]
}
